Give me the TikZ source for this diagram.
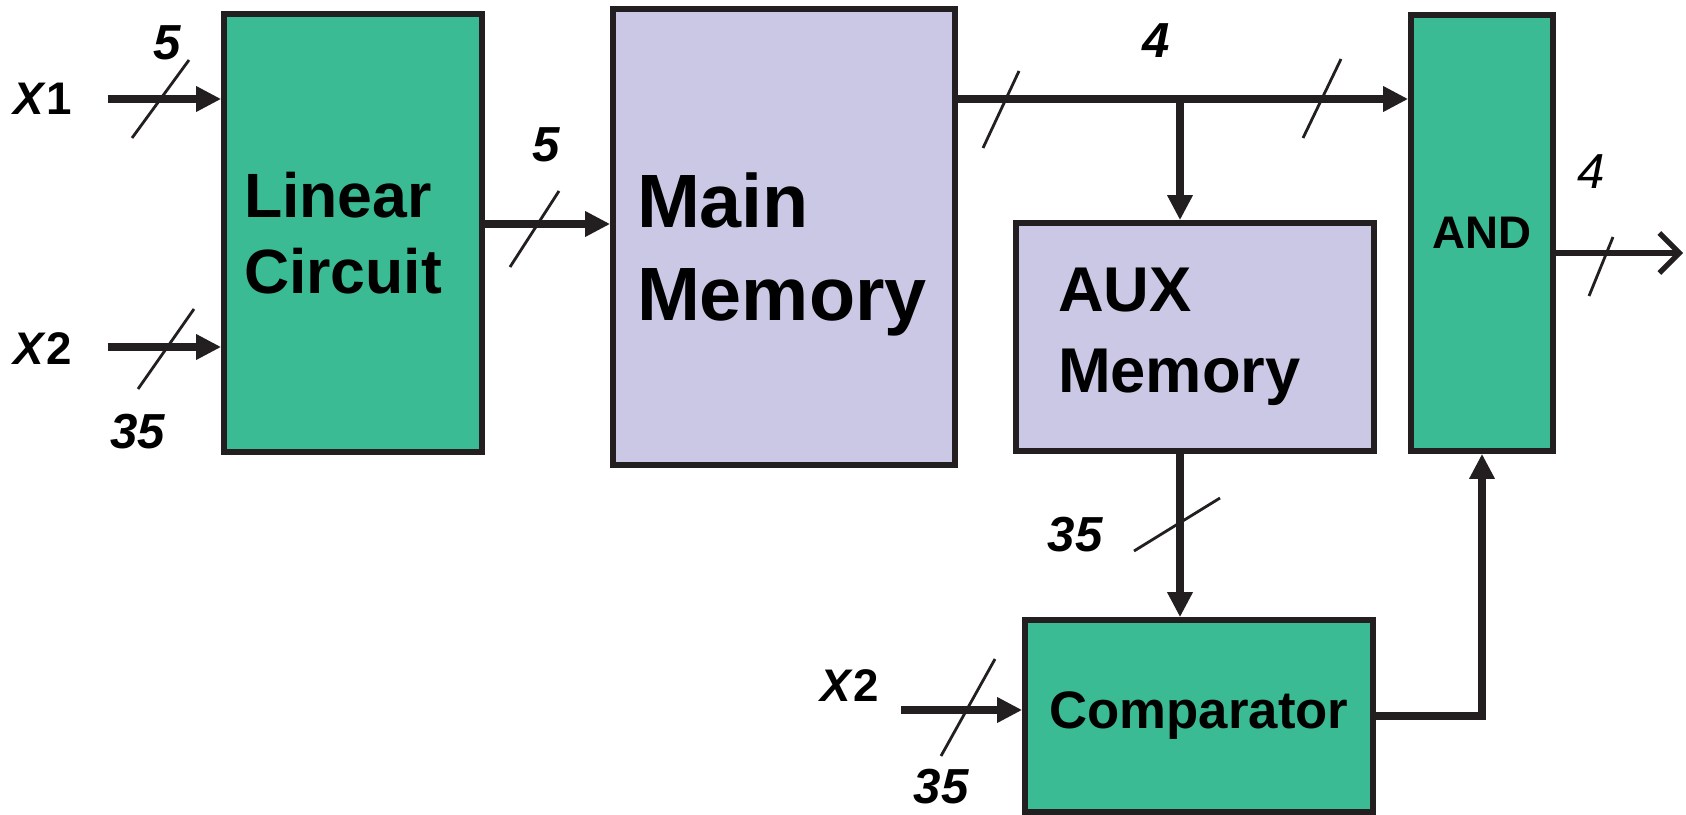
\documentclass[tikz,border=0pt]{standalone}
\usepackage{fontspec}
\setmainfont{Liberation Sans}
\usetikzlibrary{arrows.meta}

\definecolor{gruen}{HTML}{3BBB93}
\definecolor{lila}{HTML}{CAC8E5}
\definecolor{linie}{HTML}{231F20}

\tikzset{
	block/.style={draw=linie, line width=1.6pt, inner sep=0pt, align=left, font=\bfseries},
	bus/.style={draw=linie, line width=2.1pt, -{Triangle[length=0.25cm,width=0.24cm]}},
	strich/.style={draw=linie, line width=0.8pt},
	breite/.style={font=\bfseries\itshape\fontsize{14}{14}\selectfont},
	eingang/.style={font=\bfseries\fontsize{13}{13}\selectfont},
}

\begin{document}
\begin{tikzpicture}[thick]

	\useasboundingbox (0,0) rectangle (16.86,-8.14);

	% Bloecke
	\node[block, fill=gruen, minimum width=2.58cm, minimum height=4.38cm, inner xsep=0.2cm, text width=2.18cm,
	font=\bfseries\fontsize{17.8}{21.8}\selectfont]
	(lin) at (3.53,-2.33) {Linear\\Circuit};
	\node[block, fill=lila, minimum width=3.42cm, minimum height=4.56cm, inner xsep=0.24cm, text width=2.94cm,
	text height=25.6pt, font=\bfseries\fontsize{21.5}{26.5}\selectfont]
	(main) at (7.84,-2.37) {Main\\Memory};
	\node[block, fill=lila, minimum width=3.58cm, minimum height=2.28cm, inner xsep=0.42cm, text width=2.74cm,
	font=\bfseries\fontsize{18}{23}\selectfont]
	(aux) at (11.95,-3.37) {AUX\\Memory};
	\node[block, fill=gruen, minimum width=1.42cm, minimum height=4.36cm, font=\bfseries\fontsize{13}{13}\selectfont]
	(und) at (14.82,-2.33) {AND};
	\node[block, fill=gruen, minimum width=3.48cm, minimum height=1.92cm, font=\bfseries\fontsize{15}{15}\selectfont]
	(komp) at (11.99,-7.16) {Comparator};

	% Punkte
	\coordinate (x1ein) at (1.075,-0.99);
	\coordinate (x2ein) at (1.075,-3.47);
	\coordinate (lm) at (5,-2.24);
	\coordinate (abzw) at (11.80,-0.99);
	\coordinate (x2komp) at (9.01,-7.10);
	\coordinate (aus) at (16.83,-2.53);

	% Eingaenge
	\node[eingang] (lx1) at (0.43,-0.99) {\textit{X}1};
	\node[eingang] (lx2) at (0.43,-3.49) {\textit{X}2};
	\node[eingang] (lx2b) at (8.50,-6.86) {\textit{X}2};

	% Leitungen
	\draw[bus] (x1ein) -- (x1ein -| lin.west);
	\draw[bus] (x2ein) -- (x2ein -| lin.west);
	\draw[bus] (lm -| lin.east) -- (lm -| main.west);
	\draw[bus] (abzw -| main.east) -- (abzw -| und.west);
	\draw[bus] (abzw) -- (abzw |- aux.north);
	\draw[bus] (abzw |- aux.south) -- (abzw |- komp.north);
	\draw[bus] (x2komp) -- (x2komp -| komp.west);
	\draw[bus] (komp.east) -- (komp.east -| und.south) -- (und.south);
	\draw[draw=linie, line width=1.5pt, -{Straight Barb[length=0.2cm,width=0.4cm]}] (aus -| und.east) -- (aus);

	% Striche
	\draw[strich] (1.32,-1.38) -- (1.89,-0.60);
	\draw[strich] (1.38,-3.89) -- (1.94,-3.09);
	\draw[strich] (5.10,-2.67) -- (5.59,-1.91);
	\draw[strich] (9.83,-1.48) -- (10.19,-0.71);
	\draw[strich] (13.03,-1.38) -- (13.41,-0.59);
	\draw[strich] (11.34,-5.51) -- (12.20,-4.98);
	\draw[strich] (9.41,-7.56) -- (9.95,-6.59);
	\draw[strich] (15.89,-2.96) -- (16.13,-2.37);

	% Breiten
	\node[breite] (b1) at (1.67,-0.43) {5};
	\node[breite] (b2) at (1.38,-4.32) {35};
	\node[breite] (b3) at (5.46,-1.45) {5};
	\node[breite] (b4) at (11.56,-0.41) {4};
	\node[breite] (b5) at (10.75,-5.35) {35};
	\node[breite] (b6) at (9.41,-7.87) {35};
	\node[font=\itshape\fontsize{14}{14}\selectfont] (b7) at (15.91,-1.72) {4};

\end{tikzpicture}
\end{document}
